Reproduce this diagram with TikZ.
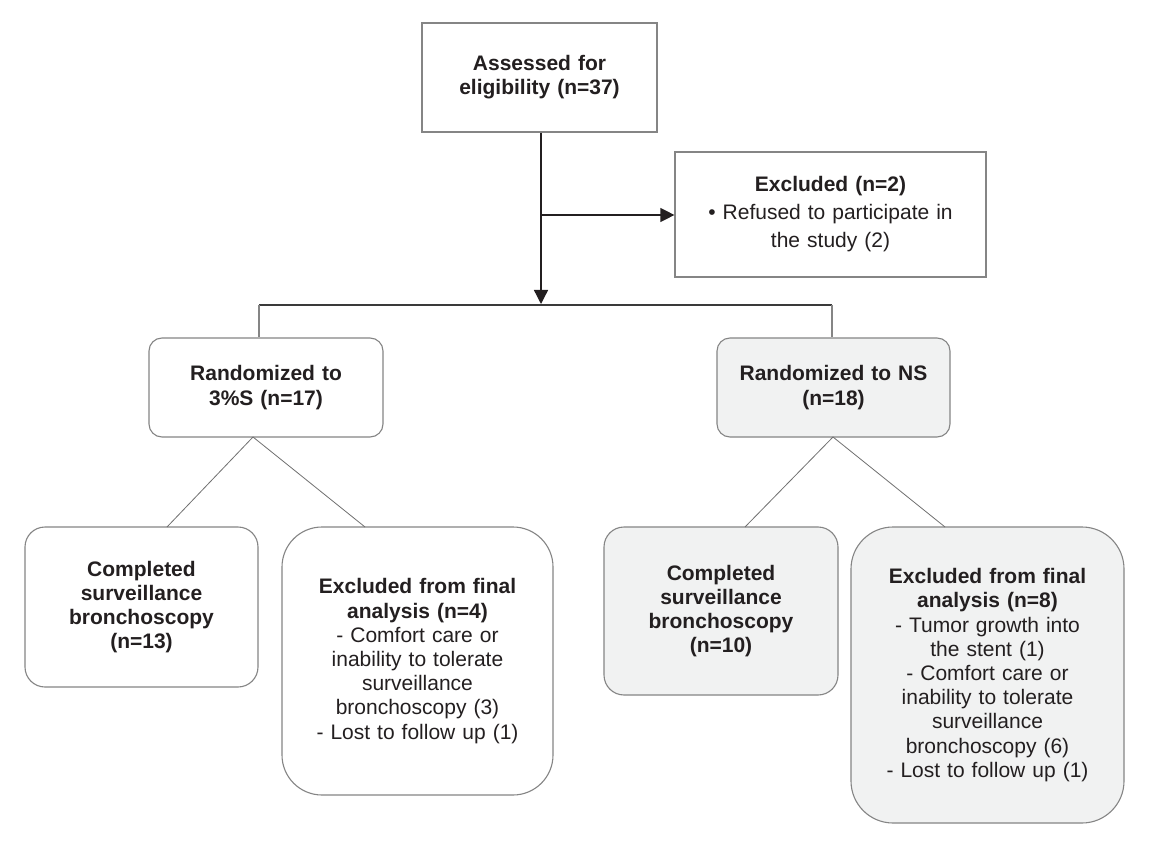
\documentclass[tikz,border=0pt]{standalone}
\usepackage{fontspec}
\setmainfont{Liberation Sans}
\usetikzlibrary{arrows.meta}
\definecolor{txt}{HTML}{231F20}
\definecolor{edge}{HTML}{858585}
\definecolor{shade}{HTML}{F1F2F2}
\definecolor{bar}{HTML}{3A3A3A}
\definecolor{thin}{HTML}{707070}
\begin{document}
\begin{tikzpicture}[x=1pt,y=-1pt,
  every node/.style={font=\fontsize{21}{24.2}\selectfont, text=txt, align=center, inner sep=0pt},
  sqbox/.style={draw=edge, line width=1.2pt, rectangle},
  rbox/.style={draw=edge, line width=1.1pt, rectangle, rounded corners=#1},
  tip/.style={-{Triangle[length=14pt,width=14pt]}, line width=1.3pt, draw=txt},
  conn/.style={line width=1.2pt},
  diag/.style={draw=thin, line width=0.8pt}]
\useasboundingbox (0,0) rectangle (1151,842);
\fill[white] (0,0) rectangle (1151,842);

\node[sqbox, minimum width=235pt, minimum height=109pt, text width=225pt] (top) at (539.5,77.5)
  {\textbf{Assessed for}\\\textbf{eligibility (n=37)}};
\node[sqbox, minimum width=311pt, minimum height=125pt, text width=300pt,
  font=\fontsize{21}{28}\selectfont] (excl) at (830.5,214.5)
  {\textbf{Excluded (n=2)}\\• Refused to participate in\\the study (2)};

\node[rbox=13pt, minimum width=234pt, minimum height=99pt, text width=225pt] (r1) at (266,387.5)
  {\textbf{Randomized to}\\\textbf{3\%S (n=17)}};
\node[rbox=13pt, fill=shade, minimum width=233pt, minimum height=99pt, text width=225pt] (r2) at (833.5,387.5)
  {\textbf{Randomized to NS}\\\textbf{(n=18)}};

\node[rbox=20pt, minimum width=233pt, minimum height=160pt, text width=225pt] (c1) at (141.5,607)
  {\textbf{Completed}\\\textbf{surveillance}\\\textbf{bronchoscopy}\\\textbf{(n=13)}};
\node[rbox=40pt, minimum width=271pt, minimum height=268pt, text width=260pt] (e1) at (417.5,661)
  {\textbf{Excluded from final}\\\textbf{analysis (n=4)}\\- Comfort care or\\inability to tolerate\\surveillance\\bronchoscopy (3)\\- Lost to follow up (1)};

\node[rbox=20pt, fill=shade, minimum width=234pt, minimum height=168pt, text width=225pt] (c2) at (721,611)
  {\textbf{Completed}\\\textbf{surveillance}\\\textbf{bronchoscopy}\\\textbf{(n=10)}};
\node[rbox=42pt, fill=shade, minimum width=273pt, minimum height=296pt, text width=262pt] (e2) at (987.5,675)
  {\textbf{Excluded from final}\\\textbf{analysis (n=8)}\\- Tumor growth into\\the stent (1)\\- Comfort care or\\inability to tolerate\\surveillance\\bronchoscopy (6)\\- Lost to follow up (1)};

% main flow
\coordinate (j) at (541,304);
\coordinate (b) at (541,215);
\draw[tip] (top.south -| j) -- (j);
\draw[tip] (b) -- (excl.west |- b);

% randomisation bar
\coordinate (L) at (259,305);
\coordinate (R) at (832,305);
\draw[conn, draw=bar] (L) -- (R);
\draw[conn, draw=edge] (L) -- (r1.north -| L);
\draw[conn, draw=edge] (R) -- (r2.north -| R);

% diagonals
\coordinate (s1) at (253,437);
\coordinate (d1) at (167,527);
\coordinate (d2) at (365,527);
\coordinate (s2) at (833,437);
\coordinate (d3) at (745,527);
\coordinate (d4) at (945,527);
\draw[diag] (s1) -- (d1);
\draw[diag] (s1) -- (d2);
\draw[diag] (s2) -- (d3);
\draw[diag] (s2) -- (d4);
\end{tikzpicture}
\end{document}
